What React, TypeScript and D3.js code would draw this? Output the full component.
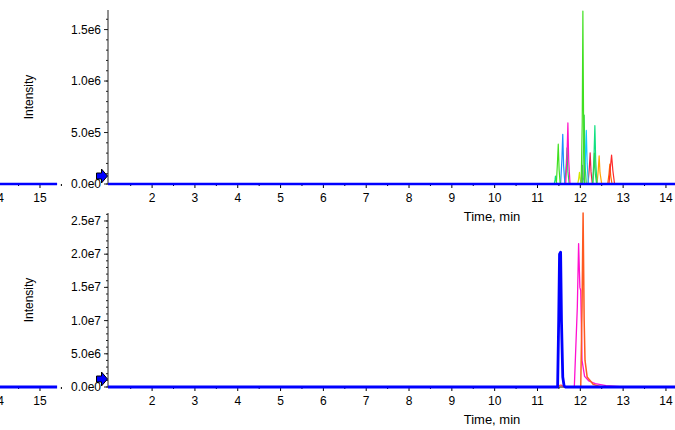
import React from 'react'
import * as d3 from 'd3'

type Pt = [number, number]

// time axis ticks (min)
const timeTicks = [2, 3, 4, 5, 6, 7, 8, 9, 10, 11, 12, 13, 14]
const sideTicks = [14, 15]

// top panel: y ticks and traces (XIC overlay)
const topYTicks = [0, 5e5, 1.0e6, 1.5e6]
const topYLabels = ['0.0e0', '5.0e5', '1.0e6', '1.5e6']

const limeTrace: Pt[] = [[1, 0], [11.44, 0], [11.465, 2.0e5], [11.485, 3.87e5], [11.505, 1.4e5], [11.53, 0], [12.02, 0], [12.045, 6.0e5], [12.06, 1.68e6], [12.075, 7.0e5], [12.1, 0], [14.3, 0]]
const greenTrace: Pt[] = [[11.64, 0], [11.67, 1.8e5], [11.69, 3.5e5], [11.71, 1.2e5], [11.74, 0], [12.05, 0], [12.075, 3.5e5], [12.09, 6.7e5], [12.11, 2.0e5], [12.14, 0], [12.29, 0], [12.315, 1.6e5], [12.33, 3.0e5], [12.35, 1.0e5], [12.38, 0]]
const magentaTrace: Pt[] = [[11.66, 0], [11.69, 3.0e5], [11.71, 5.93e5], [11.73, 2.2e5], [11.76, 0]]
const blueTrace: Pt[] = [[11.54, 0], [11.57, 2.4e5], [11.59, 4.83e5], [11.61, 1.8e5], [11.64, 0]]
const skyTrace: Pt[] = [[12.09, 0], [12.12, 2.6e5], [12.14, 5.2e5], [12.16, 2.0e5], [12.19, 0]]
const springTrace: Pt[] = [[11.39, 0], [11.41, 4e4], [11.42, 7.7e4], [11.44, 2e4], [11.46, 0], [12.29, 0], [12.32, 2.8e5], [12.34, 5.67e5], [12.36, 2.2e5], [12.39, 0]]
const crimsonTrace: Pt[] = [[12.18, 0], [12.21, 1.5e5], [12.23, 3.03e5], [12.25, 1.2e5], [12.28, 0]]
const orangeTrace: Pt[] = [[12.39, 0], [12.42, 1.4e5], [12.44, 2.74e5], [12.46, 1.1e5], [12.5, 0]]
const redTrace: Pt[] = [[12.67, 0], [12.7, 1.5e5], [12.73, 2.8e5], [12.76, 1.3e5], [12.8, 0]]
const orangeRedTrace: Pt[] = [[12.64, 0], [12.67, 1.0e5], [12.69, 1.93e5], [12.71, 8e4], [12.74, 0]]
const yellowTrace: Pt[] = [[11.94, 0], [11.965, 6e4], [11.98, 1.13e5], [12.0, 4e4], [12.03, 0]]
const purpleTrace: Pt[] = [[12.01, 0], [12.035, 9e4], [12.05, 1.8e5], [12.07, 6e4], [12.1, 0]]
const topBaseline: Pt[] = [[0.97, 0], [14.3, 0]]

// bottom panel
const botYTicks = [0, 5e6, 1.0e7, 1.5e7, 2.0e7, 2.5e7]
const botYLabels = ['0.0e0', '5.0e6', '1.0e7', '1.5e7', '2.0e7', '2.5e7']

const botBlue: Pt[] = [[0.97, 0], [11.47, 0], [11.495, 1.0e7], [11.515, 2.0e7], [11.54, 2.03e7], [11.56, 1.0e7], [11.59, 1.5e6], [11.62, 2e5], [11.65, 0], [14.3, 0]]
const botMagenta: Pt[] = [[11.86, 0], [11.93, 1.2e7], [11.96, 2.16e7], [11.99, 1.5e7], [12.01, 1.45e7], [12.04, 4.0e6], [12.1, 1.6e6], [12.2, 9e5], [12.35, 5e5], [12.6, 2e5], [13.0, 0]]
const botOrangeRed: Pt[] = [[12.01, 0], [12.04, 1.2e7], [12.065, 2.62e7], [12.09, 1.0e7], [12.11, 4.0e6], [12.16, 1.5e6], [12.3, 4e5], [12.5, 0]]
const botRed: Pt[] = [[11.45, 0], [11.5, 2e5], [11.55, 3e5], [11.62, 0]]

const topTraces: { pts: Pt[]; color: string }[] = [
  { pts: yellowTrace, color: '#d4e600' },
  { pts: purpleTrace, color: '#a060c0' },
  { pts: orangeRedTrace, color: '#ff6a00' },
  { pts: redTrace, color: '#ff2a2a' },
  { pts: orangeTrace, color: '#ffa500' },
  { pts: crimsonTrace, color: '#e8204a' },
  { pts: springTrace, color: '#10e080' },
  { pts: greenTrace, color: '#30d050' },
  { pts: skyTrace, color: '#10c8ff' },
  { pts: blueTrace, color: '#1e8cff' },
  { pts: magentaTrace, color: '#ff10c8' },
  { pts: limeTrace, color: '#40e020' },
]

const font = '"Liberation Sans", Arial, sans-serif'

const xMain = d3.scaleLinear().domain([0.97, 14.3]).range([108, 678.8])
const xSide = d3.scaleLinear().domain([14, 15.4]).range([-2.8, 57.1])

function Arrow({ cy }: { cy: number }) {
  return (
    <path
      d={`M96.5,${cy - 3} L101.5,${cy - 3} L101.5,${cy - 7} L107.5,${cy} L101.5,${cy + 7} L101.5,${cy + 3} L96.5,${cy + 3} Z`}
      fill="#0000ff"
      stroke="#000"
      strokeWidth={1}
    />
  )
}

function Panel({ y, yTicks, yLabels, minorStep, traces, baseline, baseWidth }: {
  y: d3.ScaleLinear<number, number>
  yTicks: number[]
  yLabels: string[]
  minorStep: number
  traces: { pts: Pt[]; color: string; width?: number }[]
  baseline: Pt[]
  baseWidth: number
}) {
  const [y0, y1] = y.range()
  const line = d3.line<Pt>().x(d => xMain(d[0])).y(d => y(d[1]))
  const sideLine = d3.line<Pt>().x(d => xSide(d[0])).y(d => y(d[1]))
  const yMax = y.domain()[1]
  const minor = d3.range(0, yMax, minorStep)
  const xMinor = d3.range(1.5, 14.3, 1)
  const sideMinor = [14.5, 15.5]
  const x0 = xMain.range()[0]
  return (
    <g>
      {/* side (cropped) panel */}
      <line x1={-5} x2={57} y1={y0} y2={y0} stroke="#000" />
      {sideTicks.map(t => (
        <g key={t}>
          <line x1={xSide(t)} x2={xSide(t)} y1={y0} y2={y0 + 4} stroke="#000" />
          <text x={xSide(t)} y={y0 + 18} textAnchor="middle" fontSize={12}>{t}</text>
        </g>
      ))}
      {sideMinor.map(t => (
        <line key={t} x1={xSide(t)} x2={xSide(t)} y1={y0} y2={y0 + 2} stroke="#000" />
      ))}
      <path d={sideLine([[13.9, 0], [15.4, 0]]) ?? ''} fill="none" stroke="#0000ff" strokeWidth={baseWidth} />

      {/* y axis */}
      <line x1={x0} x2={x0} y1={y1} y2={y0} stroke="#222" />
      {minor.map(v => (
        <line key={v} x1={x0 - 2} x2={x0} y1={y(v)} y2={y(v)} stroke="#222" />
      ))}
      {yTicks.map((v, i) => (
        <g key={v}>
          <line x1={x0 - 4} x2={x0} y1={y(v)} y2={y(v)} stroke="#222" />
          <text x={x0 - 7} y={y(v) + 4} textAnchor="end" fontSize={12}>{yLabels[i]}</text>
        </g>
      ))}
      <text transform={`translate(33,${(y0 + y1) / 2}) rotate(-90)`} textAnchor="middle" fontSize={12}>Intensity</text>

      {/* x axis */}
      <line x1={x0} x2={680} y1={y0} y2={y0} stroke="#000" />
      {timeTicks.map(t => (
        <g key={t}>
          <line x1={xMain(t)} x2={xMain(t)} y1={y0} y2={y0 + 4} stroke="#000" />
          <text x={xMain(t)} y={y0 + 18} textAnchor="middle" fontSize={12}>{t}</text>
        </g>
      ))}
      {xMinor.map(t => (
        <line key={t} x1={xMain(t)} x2={xMain(t)} y1={y0} y2={y0 + 2} stroke="#000" />
      ))}
      <text x={492} y={y0 + 37} textAnchor="middle" fontSize={13}>Time, min</text>

      {/* traces */}
      {traces.map((tr, i) => (
        <path key={i} d={line(tr.pts) ?? ''} fill="none" stroke={tr.color} strokeWidth={tr.width ?? 1.2} strokeLinejoin="round" />
      ))}
      <path d={line(baseline) ?? ''} fill="none" stroke="#0000ff" strokeWidth={baseWidth} strokeLinejoin="round" />
      <Arrow cy={y0 - 8} />
    </g>
  )
}

export default function App() {
  const yTop = d3.scaleLinear().domain([0, 1.69e6]).range([184, 10])
  const yBot = d3.scaleLinear().domain([0, 2.62e7]).range([387, 213])
  return (
    <svg width={675} height={430} style={{ position: 'absolute', left: 0, top: 0, background: '#fff', fontFamily: font }}>
      <g fontFamily={font} fill="#000">
        <Panel
          y={yTop}
          yTicks={topYTicks}
          yLabels={topYLabels}
          minorStep={1e5}
          traces={topTraces}
          baseline={topBaseline}
          baseWidth={2.5}
        />
        <Panel
          y={yBot}
          yTicks={botYTicks}
          yLabels={botYLabels}
          minorStep={1e6}
          traces={[
            { pts: botRed, color: '#ff4040' },
            { pts: botMagenta, color: '#ff10d0', width: 1.3 },
            { pts: botOrangeRed, color: '#ff5a20', width: 1.5 },
          ]}
          baseline={botBlue}
          baseWidth={2.8}
        />
      </g>
    </svg>
  )
}
